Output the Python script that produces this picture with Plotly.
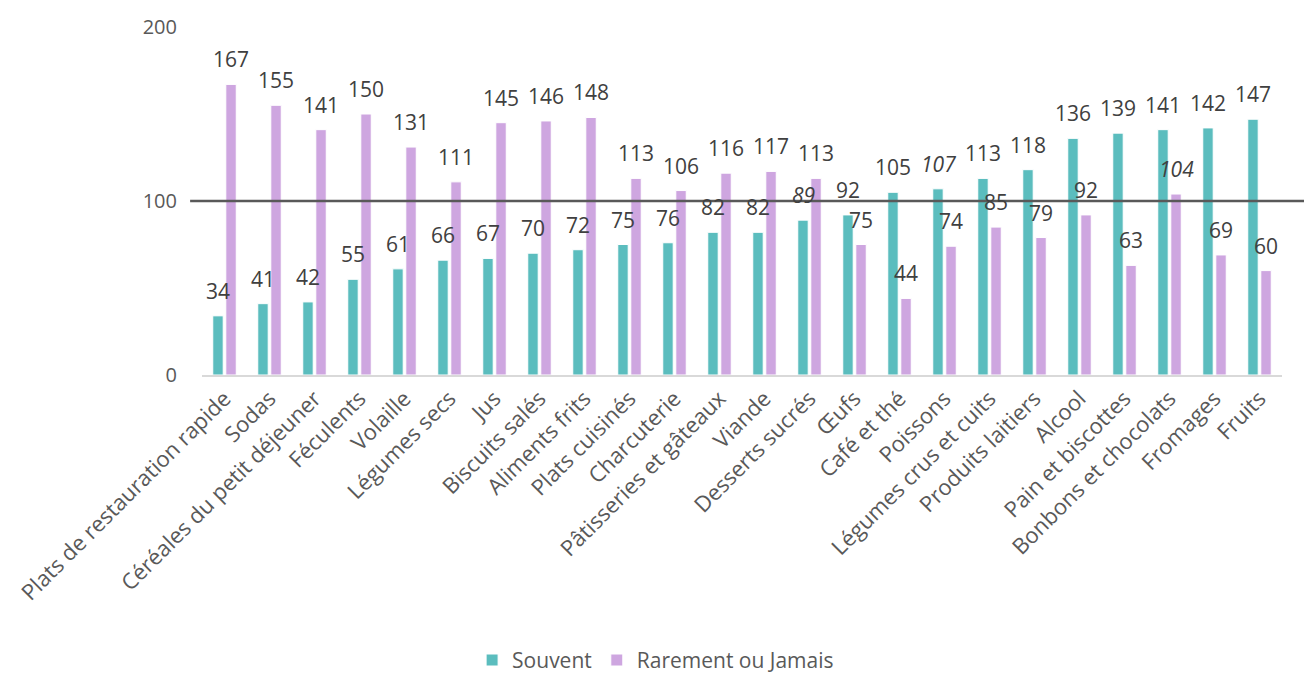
import plotly.graph_objects as go

categories = ["Plats de restauration rapide", "Sodas", "Céréales du petit déjeuner", "Féculents",
              "Volaille", "Légumes secs", "Jus", "Biscuits salés", "Aliments frits", "Plats cuisinés",
              "Charcuterie", "Pâtisseries et gâteaux", "Viande", "Desserts sucrés", "Œufs",
              "Café et thé", "Poissons", "Légumes crus et cuits", "Produits laitiers", "Alcool",
              "Pain et biscottes", "Bonbons et chocolats", "Fromages", "Fruits"]
souvent = [34, 41, 42, 55, 61, 66, 67, 70, 72, 75, 76, 82, 82, 89, 92, 105, 107, 113, 118, 136, 139, 141, 142, 147]
rarement = [167, 155, 141, 150, 131, 111, 145, 146, 148, 113, 106, 116, 117, 113, 75, 44, 74, 85, 79, 92, 63, 104, 69, 60]
italic_souvent = ["Desserts sucrés", "Poissons"]
italic_rarement = ["Bonbons et chocolats"]
reference_level = 100

teal = "#5BBDBE"
lilac = "#CEA6E0"
font_family = "Open Sans"

fig = go.Figure()
fig.add_trace(go.Bar(name="Souvent", x=categories, y=souvent, marker=dict(color=teal, line=dict(color="white", width=1))))
fig.add_trace(go.Bar(name="Rarement ou Jamais", x=categories, y=rarement, marker=dict(color=lilac, line=dict(color="white", width=1))))

annotations = []
for cat, v in zip(categories, souvent):
    txt = f"<i>{v}</i>" if cat in italic_souvent else str(v)
    annotations.append(dict(x=cat, y=v, text=txt, showarrow=False, xshift=-6.5, yshift=25,
                            font=dict(size=21, color="#404040", family=font_family)))
for cat, v in zip(categories, rarement):
    txt = f"<i>{v}</i>" if cat in italic_rarement else str(v)
    annotations.append(dict(x=cat, y=v, text=txt, showarrow=False, xshift=6.5, yshift=25,
                            font=dict(size=21, color="#404040", family=font_family)))

fig.add_shape(type="line", xref="paper", yref="y", x0=-0.011, x1=1.03, y0=reference_level, y1=reference_level,
              line=dict(color="#595959", width=2.5), layer="above")

fig.update_layout(
    width=1304, height=675,
    margin=dict(l=202, r=22, t=27, b=300, autoexpand=False),
    paper_bgcolor="white", plot_bgcolor="white",
    barmode="group", bargap=0.42, bargroupgap=0.2,
    font=dict(family=font_family, color="#595959", size=20),
    annotations=annotations,
    showlegend=True,
    legend=dict(orientation="h", x=0.42, xanchor="center", y=-0.82, yanchor="middle",
                font=dict(size=21, color="#595959"), itemwidth=30, traceorder="normal"),
    xaxis=dict(tickangle=-45, showgrid=False, showline=True, linecolor="#D9D9D9", linewidth=2,
               ticks="", tickfont=dict(size=22, color="#595959"), automargin=False),
    yaxis=dict(range=[0, 200], tickvals=[0, 100, 200], showgrid=False, zeroline=False, showline=False,
               ticklabelstandoff=24, tickfont=dict(size=20, color="#595959"), automargin=False),
)

fig.write_html("out.html", config={"displayModeBar": False},
               post_script="document.body.style.margin='0';")
